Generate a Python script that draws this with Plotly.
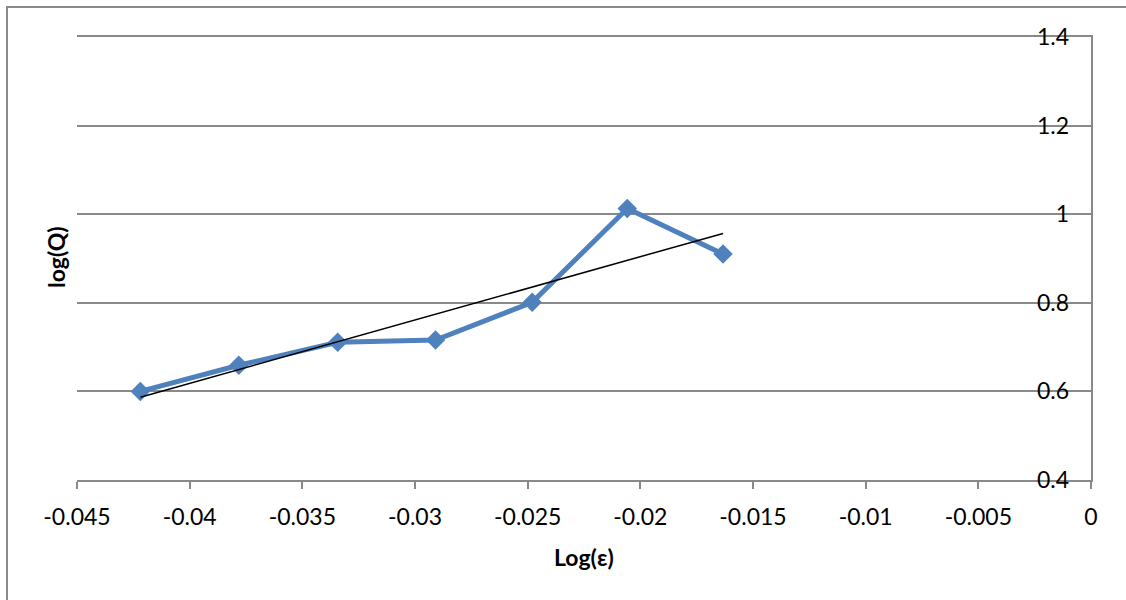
import numpy as np
import plotly.graph_objects as go

# Data
log_eps = [-0.04219, -0.03782, -0.03343, -0.02909, -0.02480, -0.02058, -0.01633]
log_q = [0.600, 0.659, 0.711, 0.716, 0.801, 1.013, 0.910]

x_tick_vals = [-0.045, -0.04, -0.035, -0.03, -0.025, -0.02, -0.015, -0.01, -0.005, 0]
x_tick_text = ["-0.045", "-0.04", "-0.035", "-0.03", "-0.025", "-0.02", "-0.015", "-0.01", "-0.005", "0"]
y_tick_vals = [0.4, 0.6, 0.8, 1.0, 1.2, 1.4]
y_tick_text = ["0.4", "0.6", "0.8", "1", "1.2", "1.4"]

x_title = "Log(ε)"
y_title = "log(Q)"

# Linear least-squares trendline over the data range
slope, intercept = np.polyfit(log_eps, log_q, 1)
trend_x = [min(log_eps), max(log_eps)]
trend_y = [slope * v + intercept for v in trend_x]

FONT = "Lato"
GRID = "#898989"

fig = go.Figure()
fig.add_trace(go.Scatter(
    x=log_eps, y=log_q, mode="lines+markers",
    line=dict(color="#4F81BD", width=5),
    marker=dict(symbol="diamond", size=15, color="#4F81BD"),
    showlegend=False,
))
fig.add_trace(go.Scatter(
    x=trend_x, y=trend_y, mode="lines", yaxis="y2",
    line=dict(color="black", width=1.5),
    showlegend=False,
))

L, R, T, B = 77, 35, 37, 120
W, H = 1126, 600
pw = W - L - R
ph = H - T - B

label_axis_px = 1069  # where the label axis sits (labels end just left of it)

fig.update_layout(
    width=W, height=H,
    margin=dict(l=L, r=R, t=T, b=B, pad=0),
    paper_bgcolor="white", plot_bgcolor="white",
    font=dict(family=FONT, size=23, color="black"),
    xaxis=dict(
        range=[-0.045, 0], tickvals=x_tick_vals, ticktext=x_tick_text,
        showgrid=False, zeroline=False,
        showline=True, mirror=True, linecolor=GRID, linewidth=1.5,
        ticks="outside", ticklen=7, tickwidth=1.5, tickcolor=GRID,
        ticklabelstandoff=9,
        tickfont=dict(family=FONT, size=23, color="black"),
    ),
    yaxis=dict(
        range=[0.4, 1.4], tickvals=y_tick_vals,
        side="right", showticklabels=False,
        showgrid=True, gridcolor=GRID, gridwidth=1.5,
        zeroline=False,
        showline=True, linecolor=GRID, linewidth=1.5,
        ticks="inside", ticklen=8, tickwidth=1.5, tickcolor=GRID,
    ),
    yaxis2=dict(
        range=[0.4, 1.4], tickvals=y_tick_vals, ticktext=y_tick_text,
        overlaying="y", side="left", anchor="free",
        position=(label_axis_px - L) / pw,
        showgrid=False, zeroline=False, showline=False, ticks="",
        tickfont=dict(family=FONT, size=23, color="black"),
    ),
    shapes=[dict(
        type="rect", xref="paper", yref="paper",
        x0=(7 - L) / pw, x1=1.3, y0=-0.6, y1=1 + (T - 7) / ph,
        line=dict(color="#8a8a8a", width=2), fillcolor="rgba(0,0,0,0)",
        layer="below",
    )],
    annotations=[
        dict(text="<b>" + x_title + "</b>", xref="paper", yref="paper",
             x=0.5, y=-(557 - (H - B)) / ph, xanchor="center", yanchor="middle",
             showarrow=False, font=dict(family=FONT, size=23, color="black")),
        dict(text="<b>" + y_title + "</b>", xref="paper", yref="paper",
             x=(56 - L) / pw, y=(H - B - 258) / ph, xanchor="center", yanchor="middle",
             textangle=-90,
             showarrow=False, font=dict(family=FONT, size=23, color="black")),
    ],
)

fig.write_html(
    "out.html",
    config={"displayModeBar": False},
    post_script="document.body.style.margin='0';document.body.style.overflow='hidden';",
)
